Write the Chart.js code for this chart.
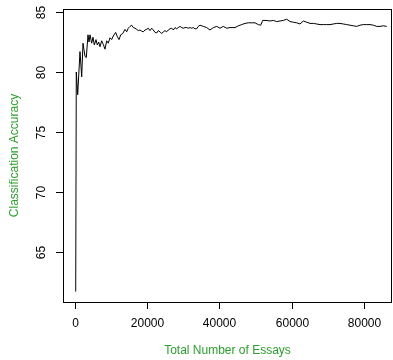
<!DOCTYPE html>
<html>
<head>
<meta charset="utf-8">
<script src="https://cdn.jsdelivr.net/npm/chart.js@4"></script>
<style>
  html, body { margin: 0; padding: 0; background: #fff; }
  #wrap { width: 393px; height: 360px; }
</style>
</head>
<body>
<div id="wrap"><canvas id="myChart" width="393" height="360"></canvas></div>
<script>
const essays = [200, 360, 750, 1385, 1860, 2215, 2770, 3130, 3600, 3880, 4155, 4625, 4985, 5350, 5820, 6180, 6560, 6925, 7390, 7840, 8310, 8780, 9220, 9695, 10160, 10610, 11270, 11720, 12190, 12660, 13210, 13850, 14320, 14760, 15235, 15700, 16150, 16620, 17090, 17530, 18000, 18480, 18920, 19390, 19860, 20300, 20775, 21250, 21690, 22160, 22630, 23070, 23545, 24015, 24460, 24930, 25400, 25840, 26315, 26790, 27230, 27700, 28170, 28610, 29085, 29560, 30000, 30470, 30940, 31380, 31855, 32325, 32770, 33240, 33710, 34150, 34625, 35540, 36480, 37395, 38310, 39250, 40165, 41080, 42020, 42935, 44320, 45235, 46175, 47090, 48005, 48945, 49860, 50775, 51440, 51995, 52905, 54015, 54930, 55870, 56785, 57700, 58640, 59555, 60470, 61410, 62325, 63240, 64180, 65095, 66010, 66950, 67865, 68780, 69720, 70635, 71550, 72490, 73405, 74320, 75260, 76175, 77090, 78030, 78945, 79860, 80800, 81715, 82630, 83570, 84485, 85400, 86340];
const accuracy = [61.7, 80.0, 78.1, 81.7, 79.6, 82.4, 81.3, 81.2, 83.1, 82.5, 83.1, 82.4, 82.9, 82.25, 82.7, 82.25, 82.5, 82.1, 82.6, 82.3, 81.9, 82.6, 82.4, 82.85, 82.7, 83.0, 83.3, 82.95, 82.7, 83.1, 83.2, 83.55, 83.35, 83.65, 83.8, 83.9, 83.7, 83.65, 83.55, 83.45, 83.5, 83.4, 83.35, 83.5, 83.55, 83.65, 83.45, 83.65, 83.5, 83.3, 83.25, 83.45, 83.35, 83.2, 83.35, 83.45, 83.35, 83.5, 83.6, 83.65, 83.5, 83.7, 83.6, 83.7, 83.8, 83.7, 83.65, 83.7, 83.7, 83.65, 83.7, 83.65, 83.7, 83.6, 83.6, 83.8, 83.9, 83.8, 83.7, 83.5, 83.7, 83.8, 83.65, 83.8, 83.65, 83.7, 83.7, 83.85, 83.95, 84.05, 84.1, 84.1, 84.1, 83.95, 83.9, 84.3, 84.3, 84.25, 84.3, 84.2, 84.25, 84.3, 84.4, 84.2, 84.15, 84.1, 84.0, 84.25, 84.15, 84.05, 84.05, 84.0, 83.95, 83.95, 83.95, 83.95, 84.0, 84.05, 84.05, 84.0, 83.95, 83.9, 83.85, 83.8, 83.9, 83.95, 83.95, 83.95, 83.9, 83.8, 83.8, 83.85, 83.8];
const xTicks = [0, 20000, 40000, 60000, 80000];
const yTicks = [65, 70, 75, 80, 85];

const FONT = '12px "Liberation Sans", Arial, sans-serif';
const GREEN = '#2ca02c';

// R style box, ticks and labels drawn from the scales
const rAxes = {
  id: 'rAxes',
  afterDraw(chart) {
    const ctx = chart.ctx;
    const a = chart.chartArea;
    const xs = chart.scales.x, ys = chart.scales.y;
    ctx.save();
    ctx.strokeStyle = '#000';
    ctx.lineWidth = 1;
    ctx.strokeRect(Math.round(a.left) + 0.5, Math.round(a.top) + 0.5,
      Math.round(a.right - a.left) - 1, Math.round(a.bottom - a.top));

    ctx.fillStyle = '#000';
    ctx.font = FONT;
    ctx.textAlign = 'center';
    ctx.textBaseline = 'middle';
    xTicks.forEach(v => {
      const px = Math.round(xs.getPixelForValue(v)) + 0.5;
      ctx.beginPath();
      ctx.moveTo(px, a.bottom);
      ctx.lineTo(px, a.bottom + 7);
      ctx.stroke();
      ctx.fillText(String(v), px, a.bottom + 22);
    });
    yTicks.forEach(v => {
      const py = Math.round(ys.getPixelForValue(v)) + 0.5;
      ctx.beginPath();
      ctx.moveTo(a.left - 7, py);
      ctx.lineTo(a.left, py);
      ctx.stroke();
      ctx.save();
      ctx.translate(a.left - 21, py);
      ctx.rotate(-Math.PI / 2);
      ctx.fillText(String(v), 0, 0);
      ctx.restore();
    });

    ctx.fillStyle = GREEN;
    ctx.fillText('Total Number of Essays', (a.left + a.right) / 2, 351);
    ctx.save();
    ctx.translate(15, (a.top + a.bottom) / 2);
    ctx.rotate(-Math.PI / 2);
    ctx.fillText('Classification Accuracy', 0, 0);
    ctx.restore();
    ctx.restore();
  }
};

new Chart(document.getElementById('myChart'), {
  type: 'line',
  data: {
    datasets: [{
      data: essays.map((e, i) => ({ x: e, y: accuracy[i] })),
      borderColor: '#000',
      borderWidth: 1,
      pointRadius: 0,
      tension: 0,
      fill: false
    }]
  },
  options: {
    responsive: false,
    animation: false,
    layout: { padding: { left: 63, right: 1, top: 9, bottom: 58 } },
    plugins: { legend: { display: false }, tooltip: { enabled: false } },
    scales: {
      x: { type: 'linear', min: -3320, max: 87800, display: false },
      y: { type: 'linear', min: 60.83, max: 85.25, display: false }
    }
  },
  plugins: [rAxes]
});
</script>
</body>
</html>
